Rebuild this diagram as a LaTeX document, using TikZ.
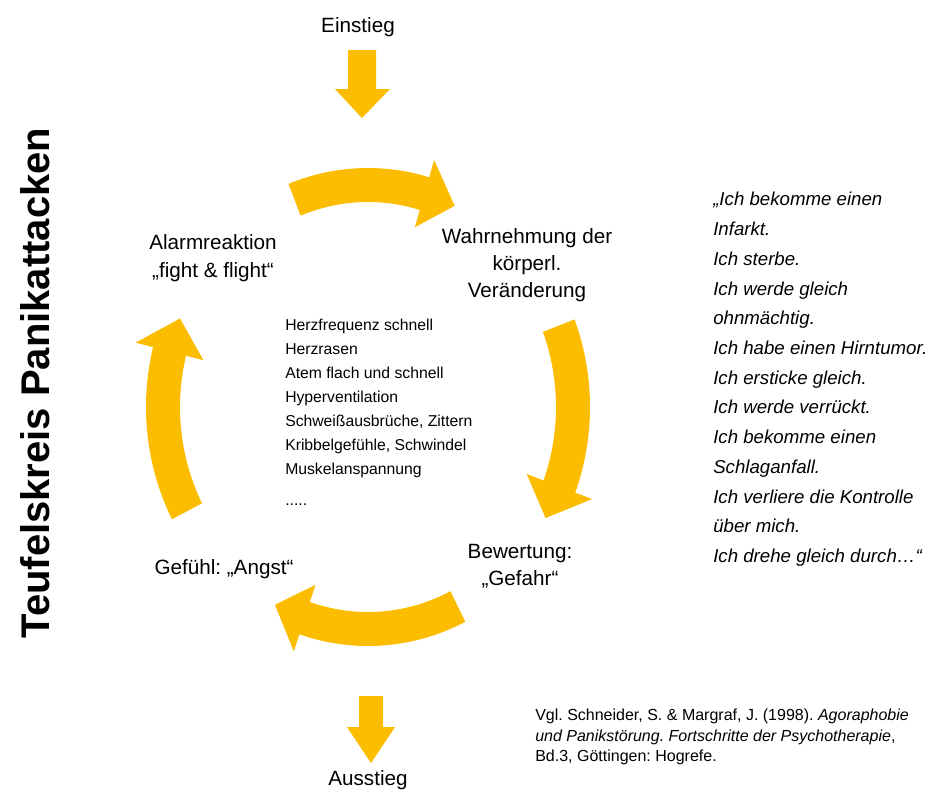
\documentclass[tikz,border=0pt]{standalone}
\usepackage{fontspec}
\setmainfont{Liberation Sans}
\frenchspacing
\definecolor{ringgold}{RGB}{252,188,0}
\begin{document}
\begin{tikzpicture}[x=0.75pt,y=-0.75pt,
  ringarrow/.style={fill=ringgold},
  stage/.style={font=\fontsize{15.5}{20.5}\selectfont, align=center, inner sep=0pt}]
  \useasboundingbox (0,0) rectangle (927,796);
  % title on the left, reading upwards
  \node[rotate=90, font=\fontsize{30}{36}\selectfont\bfseries] (title) at (35,383) {Teufelskreis Panikattacken};
  % entry label and block arrow
  \node[stage] (einstieg) at (358,27) {Einstieg};
  \fill[ringarrow] (348,50) -- (376,50) -- (376,89) -- (390,89) -- (362,118) -- (335,89) -- (348,89) -- cycle;
  % four curved arrows round the cycle (tail angle / tip angle / head base angle)
  \foreach \ta/\tb/\th in {111/65/74, 21.5/-30/-21, -64/-117/-108, -152/-203.5/-194.5}
    \fill[ringarrow] plot[domain=\ta:\th, samples=30] ({368+222*cos(\x)},{407-239*sin(\x)})
      -- ({368+240*cos(\th)},{407-257*sin(\th)})
      -- ({368+205*cos(\tb)},{407-222*sin(\tb)})
      -- ({368+170*cos(\th)},{407-187*sin(\th)})
      -- plot[domain=\th:\ta, samples=30] ({368+188*cos(\x)},{407-205*sin(\x)}) -- cycle;
  % stages of the cycle
  \node[stage] (wahrnehmung) at (527,265) {Wahrnehmung der\\körperl.\\Veränderung};
  \node[stage] (bewertung) at (520,566) {Bewertung:\\„Gefahr“};
  \node[stage] (gefuehl) at (224,569) {Gefühl: „Angst“};
  \node[stage] (alarm) at (213,258) {Alarmreaktion\\„fight \& flight“};
  % bodily symptoms in the middle
  \node[anchor=north west, inner sep=0pt, align=left, font=\fontsize{11.8}{18}\selectfont] (symptome) at (285,319)
    {Herzfrequenz schnell\\Herzrasen\\Atem flach und schnell\\Hyperventilation\\Schweißausbrüche, Zittern\\Kribbelgefühle, Schwindel\\Muskelanspannung\\[5pt].....};
  % catastrophic thoughts on the right
  \node[anchor=north west, inner sep=0pt, align=left, font=\fontsize{14}{22.3}\selectfont\itshape] (gedanken) at (713,192)
    {„Ich bekomme einen\\Infarkt.\\Ich sterbe.\\Ich werde gleich\\ohnmächtig.\\Ich habe einen Hirntumor.\\Ich ersticke gleich.\\Ich werde verrückt.\\Ich bekomme einen\\Schlaganfall.\\Ich verliere die Kontrolle\\über mich.\\Ich drehe gleich durch…“};
  % exit block arrow and label
  \fill[ringarrow] (359,696) -- (383,696) -- (383,727) -- (395,727) -- (371,763) -- (347,727) -- (359,727) -- cycle;
  \node[stage] (ausstieg) at (368,780) {Ausstieg};
  % reference
  \node[anchor=north west, inner sep=0pt, align=left, font=\fontsize{12}{15.4}\selectfont] (quelle) at (535,709)
    {Vgl. Schneider, S. \& Margraf, J. (1998). \textit{Agoraphobie}\\\textit{und Panikstörung. Fortschritte der Psychotherapie},\\Bd.3, Göttingen: Hogrefe.};
\end{tikzpicture}
\end{document}
